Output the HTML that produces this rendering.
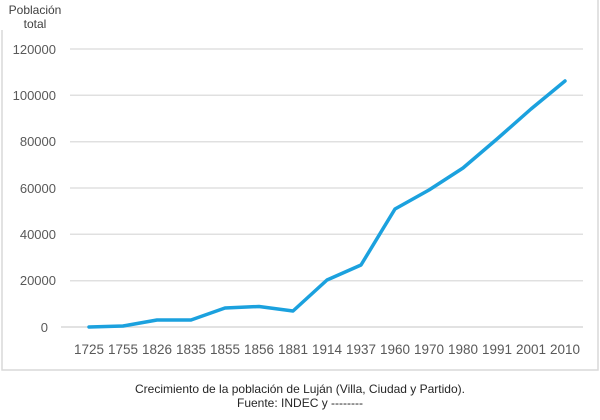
<!DOCTYPE html>
<html><head><meta charset="utf-8"><style>
body{margin:0;background:#fff;}
svg{display:block;font-family:"Liberation Sans",sans-serif;}
</style></head><body>
<svg width="600" height="420" viewBox="0 0 600 420">
<rect x="0" y="0" width="600" height="420" fill="#fff"/>
<path d="M2 30 V370 H598 V0" fill="none" stroke="#d9d9d9" stroke-width="1.5"/>
<text x="35" y="14" font-size="12" text-anchor="middle" fill="#404040">Población</text>
<text x="35" y="28" font-size="12" text-anchor="middle" fill="#404040">total</text>
<g stroke="#e0e0e0" stroke-width="1.5">
<line x1="70" x2="583" y1="49" y2="49"/><line x1="70" x2="583" y1="95.3" y2="95.3"/>
<line x1="70" x2="583" y1="141.7" y2="141.7"/><line x1="70" x2="583" y1="188" y2="188"/>
<line x1="70" x2="583" y1="234.3" y2="234.3"/><line x1="70" x2="583" y1="280.7" y2="280.7"/>
<line x1="61" x2="583" y1="327" y2="327" stroke="#d9d9d9"/>
</g>
<g font-size="13" fill="#595959" text-anchor="end">
<text x="56" y="54">120000</text><text x="56" y="100">100000</text><text x="56" y="146">80000</text>
<text x="56" y="193">60000</text><text x="56" y="239">40000</text><text x="56" y="285">20000</text><text x="48" y="332">0</text>
</g>
<g font-size="13.5" fill="#595959" text-anchor="middle">
<text x="89" y="354">1725</text><text x="123" y="354">1755</text><text x="157" y="354">1826</text>
<text x="191" y="354">1835</text><text x="225" y="354">1855</text><text x="259" y="354">1856</text>
<text x="293" y="354">1881</text><text x="327" y="354">1914</text><text x="361" y="354">1937</text>
<text x="395" y="354">1960</text><text x="429" y="354">1970</text><text x="463" y="354">1980</text>
<text x="497" y="354">1991</text><text x="531" y="354">2001</text><text x="565" y="354">2010</text>
</g>
<polyline fill="none" stroke="#1ba1de" stroke-width="3.5" stroke-linejoin="round" stroke-linecap="round"
points="89,327 123,326 157,320 191,320 225,308 259,306.5 293,311 327,280 361,265 395,209 429,190 463,168 497,139 531,109 565,81"/>
<text x="300" y="393" font-size="12" text-anchor="middle" fill="#262626">Crecimiento de la población de Luján (Villa, Ciudad y Partido).</text>
<text x="300" y="407" font-size="12" text-anchor="middle" fill="#262626">Fuente: INDEC y --------</text>
</svg>
</body></html>
